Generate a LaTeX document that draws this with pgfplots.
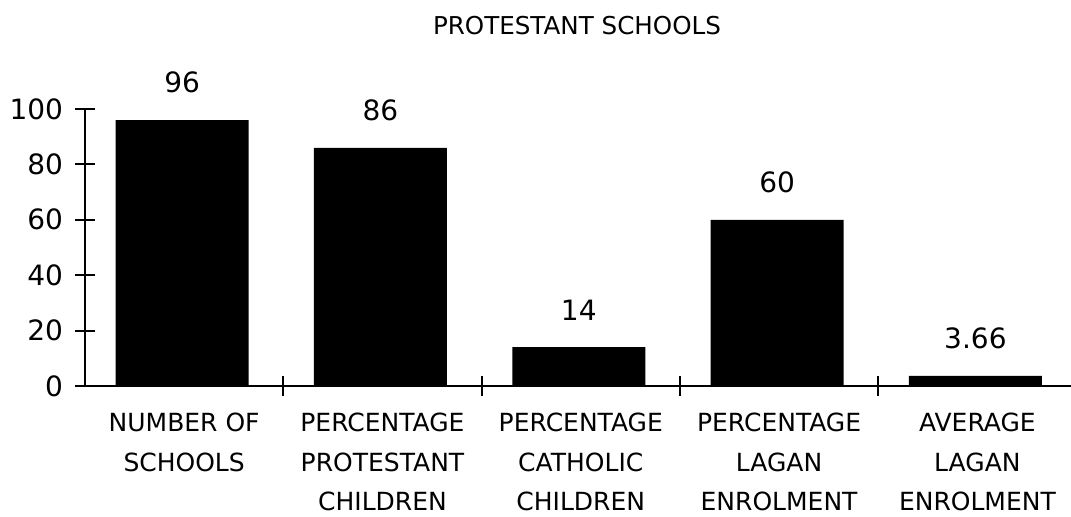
\documentclass[border=0pt]{standalone}
\usepackage{fontspec}
\setmainfont{DejaVu Sans}
\usepackage{pgfplots}
\pgfplotsset{compat=1.18}
\begin{document}
\begin{tikzpicture}
\useasboundingbox (0,0) rectangle (1071bp,517bp);
\node[anchor=base, font=\fontsize{24.6bp}{29bp}\selectfont] at (577bp,482bp) {PROTESTANT SCHOOLS};
\begin{axis}[
  at={(85bp,131bp)}, anchor=south west,
  scale only axis, width=986bp, height=277bp,
  xmin=-0.5, xmax=4.472, ymin=0, ymax=100,
  enlargelimits=false, clip=false,
  axis x line=bottom, axis y line=left,
  axis line style={-, line width=2bp, black},
  ybar, bar width=133bp,
  tick align=center,
  major tick length=19bp,
  tick style={line width=2bp, black},
  ytick={0,20,...,100},
  /pgf/number format/assume math mode=true,
  yticklabel style={font=\fontsize{28bp}{32bp}\selectfont, xshift=-9bp},
  xtick={0.5,1.5,2.5,3.5},
  xticklabels={},
  extra x ticks={0,1,2,3,4},
  extra x tick labels={NUMBER OF\\SCHOOLS, PERCENTAGE\\PROTESTANT\\CHILDREN, PERCENTAGE\\CATHOLIC\\CHILDREN, PERCENTAGE\\LAGAN\\ENROLMENT, AVERAGE\\LAGAN\\ENROLMENT},
  extra x tick style={major tick length=0pt, xticklabel style={align=center, anchor=north, inner sep=0pt, text depth=0pt, font=\fontsize{25bp}{39.5bp}\selectfont, yshift=-27bp}},
  nodes near coords,
  nodes near coords style={font=\fontsize{28bp}{32bp}\selectfont, anchor=south, inner sep=0pt, yshift=27bp, black},
]
\addplot[fill=black, draw=none, bar shift=-2bp] coordinates {(0,96) (1,86) (2,14) (3,60) (4,3.66)};
\end{axis}
\end{tikzpicture}
\end{document}
